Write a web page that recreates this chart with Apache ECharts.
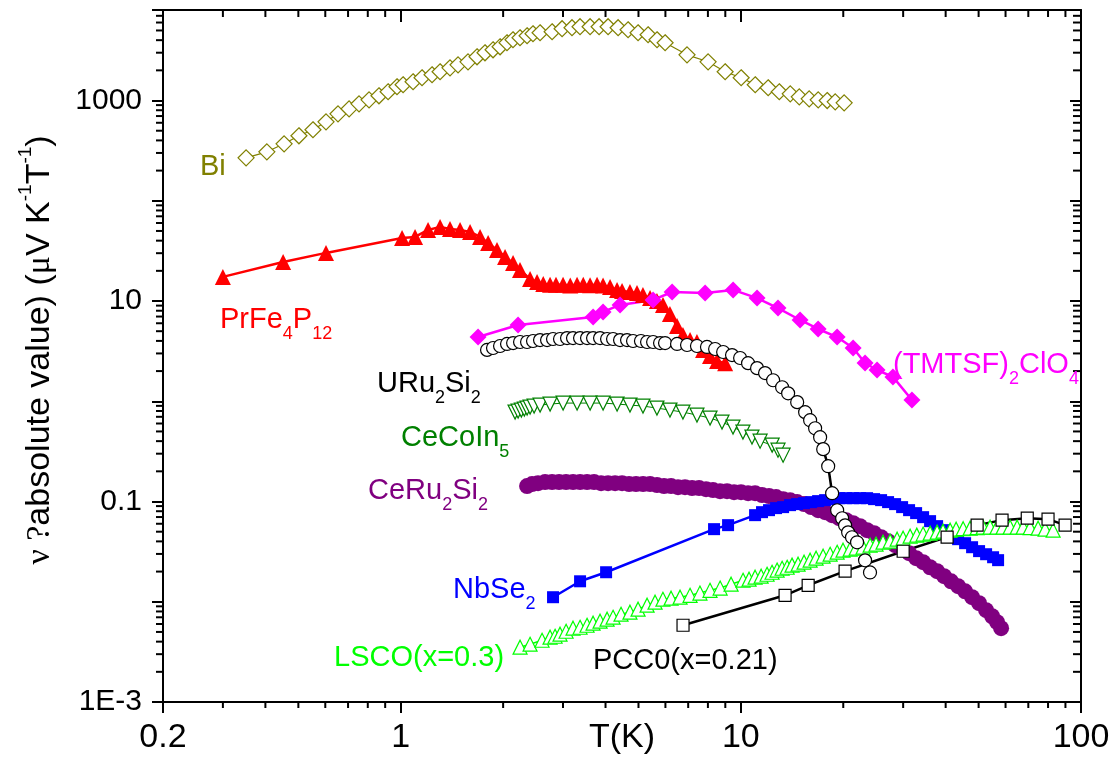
<!DOCTYPE html>
<html>
<head>
<meta charset="utf-8">
<script src="https://cdn.jsdelivr.net/npm/echarts@6/dist/echarts.min.js"></script>
<style>
html,body{margin:0;padding:0;background:#fff;}
#main{width:1115px;height:757px;}
</style>
</head>
<body>
<div id="main"></div>
<script>
// ---------------- data (T in K, |value| in uV K^-1 T^-1) ----------------
const xTickLabels = ['0.2', '1', '10', '100'];
const yTickLabels = ['1E-3', '0.1', '10', '1000'];

const bi = [[0.351,268],[0.404,308],[0.454,370],[0.502,445],[0.552,511],[0.603,613],[0.654,737],[0.705,827],[0.754,927],[0.807,1016],[0.863,1115],[0.918,1223],[0.975,1372],[1.016,1436],[1.087,1539],[1.155,1687],[1.236,1808],[1.305,1937],[1.396,2120],[1.474,2271],[1.577,2434],[1.676,2731],[1.769,2994],[1.868,3208],[1.959,3437],[2.053,3769],[2.138,4039],[2.242,4229],[2.352,4429],[2.448,4638],[2.568,4746],[2.786,4857],[2.981,5205],[3.188,5325],[3.366,5449],[3.603,5449],[3.83,5449],[4.07,5449],[4.356,5325],[4.66,5082],[4.986,4746],[5.336,4532],[5.669,4039],[5.988,3769],[6.945,2858],[8.01,2434],[8.99,1937],[10.02,1687],[11.02,1436],[12.03,1341],[12.97,1223],[13.97,1167],[14.85,1089],[15.88,1040],[16.88,1016],[17.94,1000],[18.94,971],[20.12,949]];

const prFe4P12 = [[0.300,17.4],[0.451,24.5],[0.603,30.2],[1.009,42.6],[1.102,43.6],[1.203,51.2],[1.305,54.9],[1.396,52.4],[1.494,51.2],[1.599,48.9],[1.711,43.6],[1.807,37.9],[1.919,32.3],[2.026,27.5],[2.139,24.0],[2.242,20.4],[2.40,16.6],[2.516,15.5],[2.624,14.8],[2.748,14.5],[2.861,14.5],[3.001,14.5],[3.15,14.3],[3.299,14.5],[3.44,14.5],[3.603,14.4],[3.777,14.5],[3.934,14.3],[4.125,13.8],[4.325,12.9],[4.474,12.6],[4.72,12.3],[4.95,12.0],[5.154,11.5],[5.408,10.7],[5.665,10.0],[5.904,9.13],[6.187,7.42],[6.493,5.63],[6.755,4.58],[7.089,4.08],[7.428,3.90],[7.741,3.25],[8.115,2.83],[8.51,2.52],[8.99,2.40]];

const tmtsf = [[1.688,4.37],[2.213,5.77],[3.678,6.93],[3.934,7.78],[4.414,9.14],[5.52,10.25],[6.28,12.3],[7.85,12.0],[9.49,12.9],[11.16,10.7],[12.86,8.5],[14.93,6.47],[16.87,5.26],[19.19,4.37],[21.38,3.40],[23.18,2.41],[25.14,2.05],[28.0,1.75],[31.84,1.03]];

const uru2si2 = [[1.794,3.25],[1.868,3.40],[1.959,3.56],[2.054,3.73],[2.140,3.81],[2.243,3.90],[2.352,3.90],[2.449,3.99],[2.568,4.08],[2.693,4.08],[2.804,4.18],[2.940,4.18],[3.083,4.27],[3.21,4.27],[3.367,4.27],[3.53,4.27],[3.677,4.27],[3.855,4.27],[4.043,4.18],[4.21,4.18],[4.414,4.08],[4.628,4.08],[4.82,3.99],[5.085,3.99],[5.30,3.90],[5.521,3.90],[5.787,3.81],[5.986,3.81],[6.493,3.73],[6.947,3.64],[7.43,3.56],[7.95,3.48],[8.40,3.32],[8.87,3.10],[9.42,2.89],[9.95,2.70],[10.50,2.40],[11.16,2.14],[11.78,1.91],[12.44,1.62],[13.22,1.38],[13.77,1.20],[14.64,0.98],[15.45,0.778],[15.98,0.647],[16.53,0.538],[17.10,0.438],[17.46,0.333],[18.06,0.225],[18.55,0.121],[19.19,0.0818],[19.85,0.0681],[20.25,0.0579],[20.67,0.0493],[21.22,0.0440],[21.96,0.0392],[23.18,0.0259],[23.97,0.0196]];

const cecoin5 = [[2.168,0.780],[2.213,0.798],[2.262,0.817],[2.308,0.836],[2.352,0.855],[2.400,0.875],[2.466,0.896],[2.568,0.916],[2.748,0.938],[3.001,0.959],[3.299,0.959],[3.603,0.959],[3.934,0.959],[4.325,0.938],[4.72,0.916],[5.154,0.896],[5.665,0.855],[6.187,0.817],[6.755,0.780],[7.428,0.728],[8.115,0.680],[8.80,0.620],[9.48,0.553],[10.14,0.493],[10.78,0.439],[11.39,0.400],[12.36,0.365],[12.86,0.325],[13.31,0.290]];

const ceru2si2 = [[2.352,0.1424],[2.433,0.1491],[2.533,0.1525],[2.657,0.1561],[2.786,0.1561],[2.921,0.1561],[3.063,0.1561],[3.211,0.1561],[3.367,0.1561],[3.530,0.1561],[3.702,0.1561],[3.881,0.1525],[4.069,0.1525],[4.267,0.1525],[4.474,0.1525],[4.691,0.1491],[4.918,0.1491],[5.157,0.1491],[5.407,0.1491],[5.669,0.1457],[5.944,0.1424],[6.233,0.1424],[6.535,0.1391],[6.852,0.1391],[7.185,0.1360],[7.534,0.1360],[7.899,0.1329],[8.282,0.1299],[8.684,0.1269],[9.106,0.1269],[9.548,0.1240],[10.01,0.1240],[10.50,0.1212],[11.01,0.1212],[11.54,0.1158],[12.10,0.1132],[12.69,0.1106],[13.31,0.1056],[13.95,0.1032],[14.63,0.0986],[15.34,0.0942],[16.09,0.0879],[16.87,0.0820],[17.69,0.0783],[18.54,0.0731],[19.44,0.0682],[20.39,0.0652],[21.38,0.0608],[22.41,0.0568],[23.50,0.0518],[24.64,0.0483],[25.84,0.0441],[27.09,0.0402],[28.41,0.0367],[29.79,0.0335],[31.23,0.0305],[32.75,0.0272],[34.34,0.0248],[36.00,0.0221],[37.75,0.0202],[39.58,0.0180],[41.50,0.0160],[43.52,0.0143],[45.63,0.0127],[47.84,0.0111],[50.16,0.00967],[52.60,0.00824],[54.78,0.00717],[56.66,0.00625],[58.22,0.00545]];

const nbse2 = [[2.804,0.0111],[3.367,0.0160],[4.016,0.0197],[8.34,0.0530],[9.17,0.0581],[11.01,0.0731],[11.54,0.0783],[12.10,0.0820],[12.69,0.0859],[13.31,0.0879],[13.95,0.0920],[14.63,0.0942],[15.34,0.0963],[16.09,0.0986],[16.87,0.1009],[17.69,0.1032],[18.54,0.1056],[19.44,0.1080],[20.39,0.1080],[21.38,0.1080],[22.41,0.1080],[23.50,0.1080],[24.64,0.1056],[25.84,0.1032],[27.09,0.0986],[28.41,0.0942],[29.79,0.0879],[31.23,0.0820],[32.75,0.0766],[34.34,0.0698],[36.00,0.0637],[37.75,0.0568],[39.58,0.0518],[41.50,0.0462],[43.52,0.0421],[45.63,0.0384],[47.84,0.0350],[50.16,0.0320],[52.60,0.0298],[55.15,0.0278],[57.05,0.0260]];

const lsco = [[2.243,0.00352],[2.400,0.00377],[2.603,0.00413],[2.748,0.00443],[2.843,0.00453],[2.94,0.00475],[3.063,0.00508],[3.21,0.00545],[3.367,0.00557],[3.53,0.00583],[3.677,0.00611],[3.855,0.00640],[4.043,0.00670],[4.21,0.00701],[4.443,0.00751],[4.72,0.00787],[4.986,0.00843],[5.30,0.00924],[5.594,0.00990],[5.90,0.0106],[6.234,0.01085],[6.625,0.0111],[7.089,0.0116],[7.58,0.0122],[8.115,0.0130],[8.69,0.0137],[9.359,0.01497],[10.15,0.0164],[10.57,0.0168],[11.01,0.0176],[11.47,0.0180],[11.94,0.0188],[12.35,0.0197],[12.78,0.0207],[13.22,0.0216],[13.68,0.0221],[14.14,0.0232],[14.73,0.0237],[15.34,0.0248],[15.98,0.0260],[16.64,0.0272],[17.45,0.0285],[18.30,0.0298],[19.19,0.0312],[19.97,0.0327],[20.95,0.0335],[21.82,0.0342],[22.86,0.0350],[23.99,0.0367],[24.97,0.0375],[26.18,0.0393],[27.47,0.0402],[28.8,0.0421],[29.99,0.0431],[31.45,0.0451],[32.9,0.0462],[34.34,0.0473],[36.01,0.0483],[37.75,0.0495],[39.3,0.0506],[41.23,0.0518],[42.94,0.0530],[45.03,0.0536],[47.2,0.0542],[49.5,0.0549],[51.54,0.0555],[54.04,0.0555],[56.6,0.0555],[59.0,0.0555],[61.89,0.0555],[64.9,0.0555],[67.6,0.0555],[70.87,0.0549],[74.8,0.0542],[78.43,0.0530],[82.8,0.0518]];

const pcco = [[6.76,0.00583],[13.49,0.0116],[15.77,0.0146],[20.25,0.0202],[30.0,0.0319],[40.4,0.0441],[49.5,0.0581],[58.6,0.0652],[69.5,0.0682],[80.0,0.0667],[89.8,0.0581]];

// axis ranges and minor tick values
const xMin = 0.2, xMax = 100, yMin = 0.001, yMax = 8000;
const xMinor = [0.3,0.4,0.5,0.6,0.7,0.8,0.9,2,3,4,5,6,7,8,9,20,30,40,50,60,70,80,90];
const yMinor = [];
[0.001,0.01,0.1,1,10,100,1000].forEach(function(d){
  [2,3,4,5,6,7,8,9].forEach(function(m){ const v = +(m*d).toPrecision(3); if (v < yMax) yMinor.push(v); });
});

// ---------------- chart ----------------
const FONT = '"Liberation Sans", Arial, Helvetica, sans-serif';
const SERIF = '"Liberation Serif", "DejaVu Serif", serif';

function decade(v){ const l = Math.log10(v); const r = Math.round(l); return Math.abs(l - r) < 1e-6 ? r : null; }
function xFmt(v){
  if (Math.abs(v - 0.2) < 1e-6) return xTickLabels[0];
  const d = decade(v);
  if (d === 0) return xTickLabels[1];
  if (d === 1) return xTickLabels[2];
  if (d === 2) return xTickLabels[3];
  return '';
}
function yFmt(v){
  const d = decade(v);
  if (d === -3) return yTickLabels[0];
  if (d === -1) return yTickLabels[1];
  if (d === 1) return yTickLabels[2];
  if (d === 3) return yTickLabels[3];
  return '';
}

const chart = echarts.init(document.getElementById('main'), null, {renderer: 'canvas'});

function lineSeries(name, data, o){
  return {
    name: name, type: 'line', data: data, xAxisIndex: 0, yAxisIndex: 0,
    symbol: o.symbol, symbolSize: o.size, symbolRotate: o.rotate || 0,
    showSymbol: true, showAllSymbol: true, smooth: false, animation: false, clip: true,
    itemStyle: {color: o.fill, borderColor: o.stroke, borderWidth: o.bw || 0},
    lineStyle: {color: o.line, width: o.lw},
    emphasis: {disabled: true}
  };
}

const axisBlack = {color: '#000', width: 2};

const option = {
  animation: false,
  backgroundColor: '#fff',
  grid: {left: 163, right: 34, top: 10, bottom: 55, containLabel: false, outerBoundsMode: 'none'},
  xAxis: [
    {
      type: 'log', logBase: 10, min: xMin, max: xMax, position: 'bottom',
      axisLine: {show: true, onZero: false, lineStyle: axisBlack},
      axisTick: {show: true, inside: false, length: 11, lineStyle: axisBlack},
      axisLabel: {formatter: xFmt, color: '#000', fontSize: 34, fontFamily: FONT, margin: 19, showMinLabel: true, showMaxLabel: true, hideOverlap: false},
      splitLine: {show: false}, minorTick: {show: false},
      name: 'T(K)', nameLocation: 'middle', nameGap: 19, nameMoveOverlap: false,
      nameTextStyle: {color: '#000', fontSize: 34, fontFamily: FONT, verticalAlign: 'top'}
    },
    {
      type: 'log', logBase: 10, min: xMin, max: xMax, position: 'top',
      axisLine: {show: true, onZero: false, lineStyle: axisBlack},
      axisTick: {show: true, inside: true, length: 12, lineStyle: axisBlack},
      axisLabel: {show: false}, splitLine: {show: false}
    }
  ],
  yAxis: [
    {
      type: 'log', logBase: 10, min: yMin, max: yMax, position: 'left',
      axisLine: {show: true, onZero: false, lineStyle: axisBlack},
      axisTick: {show: true, inside: false, length: 11, lineStyle: axisBlack},
      axisLabel: {formatter: yFmt, color: '#000', fontSize: 30, fontFamily: FONT, margin: 21, showMinLabel: true, showMaxLabel: true, hideOverlap: false},
      splitLine: {show: false},
      name: '{g|\u03bd ?}{m|absolute value) (}{g|\u03bc}{m|V K}{s|-1}{m|T}{s|-1}{m|)}',
      nameLocation: 'middle', nameGap: 99, nameMoveOverlap: false,
      nameTextStyle: {
        color: '#000', fontSize: 34, fontFamily: FONT, padding: [0, 0, 0, 12],
        rich: {
          m: {fontSize: 34, fontFamily: FONT, color: '#000', lineHeight: 48},
          g: {fontSize: 34, fontFamily: SERIF, color: '#000', lineHeight: 48},
          s: {fontSize: 19, fontFamily: FONT, color: '#000', lineHeight: 20, verticalAlign: 'top'}
        }
      }
    },
    {
      type: 'log', logBase: 10, min: yMin, max: yMax, position: 'right',
      axisLine: {show: true, onZero: false, lineStyle: axisBlack},
      axisTick: {show: true, inside: true, length: 11, lineStyle: axisBlack},
      axisLabel: {show: false}, splitLine: {show: false}
    }
  ],
  series: [
    lineSeries('Bi', bi, {symbol: 'diamond', size: 16, fill: '#ffffff', stroke: '#808000', bw: 1.2, line: '#808000', lw: 1.2}),
    lineSeries('PrFe4P12', prFe4P12, {symbol: 'triangle', size: 16, fill: '#ff0000', line: '#ff0000', lw: 2.5}),
    lineSeries('CeCoIn5', cecoin5, {symbol: 'triangle', rotate: 180, size: 14, fill: '#ffffff', stroke: '#008000', bw: 1.2, line: '#008000', lw: 1}),
    lineSeries('CeRu2Si2', ceru2si2, {symbol: 'circle', size: 16, fill: '#800080', line: '#800080', lw: 2}),
    lineSeries('NbSe2', nbse2, {symbol: 'rect', size: 12, fill: '#0000ff', line: '#0000ff', lw: 2.5}),
    lineSeries('LSCO(x=0.3)', lsco, {symbol: 'triangle', size: 14, fill: '#ffffff', stroke: '#00ff00', bw: 1.2, line: '#00ff00', lw: 1.5}),
    lineSeries('PCC0(x=0.21)', pcco, {symbol: 'rect', size: 12, fill: '#ffffff', stroke: '#000000', bw: 1.2, line: '#000000', lw: 2.5}),
    lineSeries('(TMTSF)2ClO4', tmtsf, {symbol: 'diamond', size: 17, fill: '#ff00ff', line: '#ff00ff', lw: 2.5}),
    lineSeries('URu2Si2', uru2si2, {symbol: 'circle', size: 13, fill: '#ffffff', stroke: '#000000', bw: 1.2, line: '#000000', lw: 2.5}),
    {
      type: 'custom', name: 'yMinorTicks', coordinateSystem: 'cartesian2d', xAxisIndex: 0, yAxisIndex: 0,
      silent: true, clip: false, z: 5, animation: false,
      data: yMinor.map(function(v){ return [1, v]; }),
      renderItem: function(params, api){
        const v = api.value(1);
        const l = api.coord([xMin, v]);
        const r = api.coord([xMax, v]);
        return {type: 'group', children: [
          {type: 'line', shape: {x1: l[0] - 7, y1: l[1], x2: l[0], y2: l[1]}, style: {stroke: '#000', lineWidth: 2}},
          {type: 'line', shape: {x1: r[0] - 8, y1: r[1], x2: r[0], y2: r[1]}, style: {stroke: '#000', lineWidth: 2}}
        ]};
      }
    },
    {
      type: 'custom', name: 'xMinorTicks', coordinateSystem: 'cartesian2d', xAxisIndex: 0, yAxisIndex: 0,
      silent: true, clip: false, z: 5, animation: false,
      data: xMinor.map(function(v){ return [v, 1]; }),
      renderItem: function(params, api){
        const v = api.value(0);
        const b = api.coord([v, yMin]);
        const t = api.coord([v, yMax]);
        return {type: 'group', children: [
          {type: 'line', shape: {x1: b[0], y1: b[1], x2: b[0], y2: b[1] + 6}, style: {stroke: '#000', lineWidth: 2}},
          {type: 'line', shape: {x1: t[0], y1: t[1], x2: t[0], y2: t[1] + 7}, style: {stroke: '#000', lineWidth: 2}}
        ]};
      }
    }
  ],
  graphic: (function(){
    function lab(x, y, text, color){
      return {
        type: 'text', x: x, y: y, z: 100, silent: true,
        style: {
          text: text, fill: color, align: 'left', verticalAlign: 'middle',
          font: '29px ' + FONT,
          rich: {
            a: {fontSize: 29, fontFamily: FONT, fill: color, lineHeight: 46},
            b: {fontSize: 18, fontFamily: FONT, fill: color, lineHeight: 18, verticalAlign: 'bottom'}
          }
        }
      };
    }
    return [
      lab(200, 167, '{a|Bi}', '#808000'),
      lab(220, 320, '{a|PrFe}{b|4}{a|P}{b|12}', '#ff0000'),
      lab(377, 384, '{a|URu}{b|2}{a|Si}{b|2}', '#000000'),
      lab(401, 438, '{a|CeCoIn}{b|5}', '#008000'),
      lab(368, 491, '{a|CeRu}{b|2}{a|Si}{b|2}', '#800080'),
      lab(453, 590, '{a|NbSe}{b|2}', '#0000ff'),
      lab(334, 658, '{a|LSCO(x=0.3)}', '#00ff00'),
      lab(593, 661, '{a|PCC0(x=0.21)}', '#000000'),
      lab(893, 365, '{a|(TMTSF)}{b|2}{a|ClO}{b|4}', '#ff00ff')
    ];
  })()
};

chart.setOption(option);
</script>
</body>
</html>
